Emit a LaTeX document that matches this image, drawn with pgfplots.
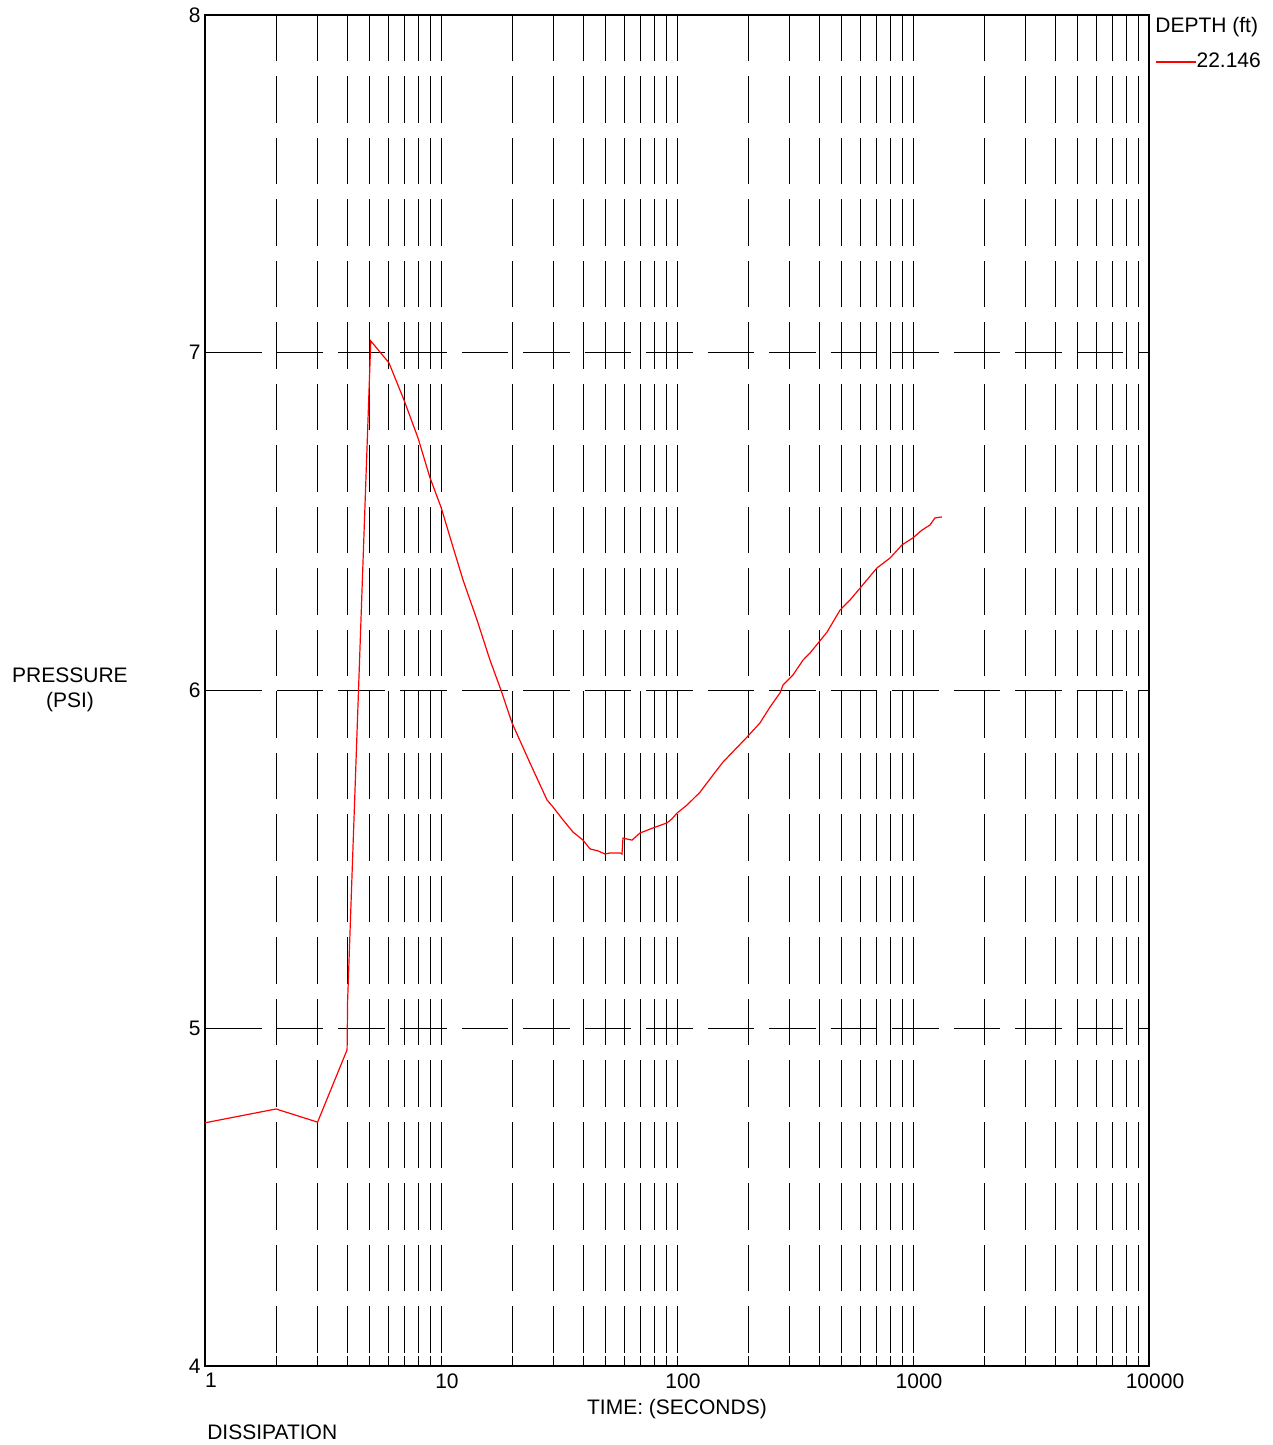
\documentclass[border=0pt]{standalone}
\usepackage{fontspec}
\setmainfont{Liberation Sans}
\usepackage{pgfplots}
\pgfplotsset{compat=1.18}
\begin{document}
\fontsize{10.5}{12.6}\selectfont
\begin{tikzpicture}
\useasboundingbox (-102.5pt,-39.5pt) rectangle (534pt,683pt);
\begin{axis}[
  at={(0,0)}, anchor=south west,
  scale only axis, width=472pt, height=675.5pt,
  xmode=log, log basis x=10,
  xmin=1, xmax=10000, ymin=4, ymax=8,
  xtick={1,10,100,1000,10000},
  xticklabels={1,10,100,1000,10000},
  minor xtick={2,3,4,5,6,7,8,9,20,30,40,50,60,70,80,90,200,300,400,500,600,700,800,900,2000,3000,4000,5000,6000,7000,8000,9000},
  ytick={4,5,6,7,8},
  yticklabels={4,5,6,7,8},
  grid=both,
  x grid style={black, line width=0.5pt, dash pattern=on 23.25pt off 7.5pt, dash phase=24.25pt},
  y grid style={black, line width=0.5pt, dash pattern=on 23.25pt off 7.5pt, dash phase=25.5pt},
  tick pos=left, tick align=inside,
  major tick length=5pt, minor tick length=5pt,
  every tick/.style={black, line width=0.5pt},
  axis line style={black, line width=0.7pt},
  xticklabel style={anchor=north, inner sep=0pt, yshift=-3.5pt, xshift=3pt},
  yticklabel style={anchor=east, inner sep=0pt, xshift=-2pt},
  xlabel={TIME: (SECONDS)},
  xlabel style={at={(axis description cs:0.5,-0.0318)}, anchor=center, inner sep=0pt},
  ylabel={PRESSURE\\(PSI)},
  ylabel style={rotate=-90, align=center, at={(axis description cs:-0.143,0.5004)}, anchor=center, inner sep=0pt},
  clip=false,
  legend style={at={(axis description cs:1.00636,0.9652)}, anchor=west, draw=none, fill=none, inner sep=0pt, nodes={inner sep=0pt}},
  legend cell align=left,
  legend image code/.code={\draw[#1] (0pt,0pt) -- (20pt,0pt);},
]
\addplot[red, line width=0.6pt] coordinates {
(1,4.720) (2,4.761) (3,4.722) (4,4.936) (4.02,5.08)
(5.04,7.035) (6.02,6.970) (6.97,6.860) (7.99,6.748) (8.98,6.630)
(10.0,6.543) (11.24,6.425) (12.40,6.327) (14.21,6.209) (16.13,6.090)
(17.96,6.001) (20.0,5.904) (23.84,5.785) (28.13,5.676) (29.83,5.655)
(32.88,5.617) (36.25,5.581) (39.97,5.557) (42.80,5.531) (46.28,5.525)
(49.54,5.516) (52.02,5.519) (57.36,5.519) (58.48,5.516) (59.03,5.563)
(64.47,5.557) (69.68,5.578) (79.13,5.593) (90.7,5.608) (95.2,5.620)
(100,5.637) (110.3,5.661) (125.2,5.699) (142.1,5.750) (156.6,5.788)
(198.0,5.862) (224.7,5.904) (247.8,5.951) (273.2,5.993) (281.3,6.016)
(310.1,6.046) (342.0,6.090) (366.1,6.111) (395.9,6.140) (432.3,6.173)
(490.6,6.238) (540.9,6.268) (596.4,6.303) (704.0,6.363) (798.9,6.392)
(898.2,6.431) (1000,6.452) (1092,6.475) (1180,6.490) (1239,6.511) (1327,6.514)
};
\addlegendentry{22.146}
\node[anchor=west, inner sep=0pt] at (axis description cs:1.00636,0.99112) {DEPTH (ft)};
\node[anchor=west, inner sep=0pt] at (axis description cs:0.002,-0.0489) {DISSIPATION};
\end{axis}
\end{tikzpicture}
\end{document}
